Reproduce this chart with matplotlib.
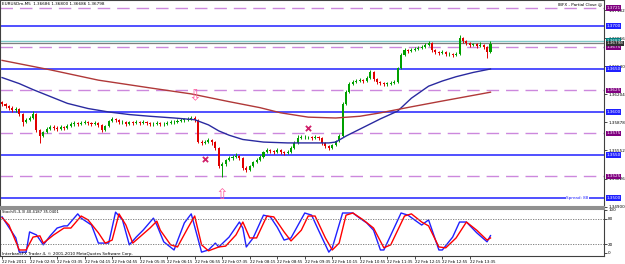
import matplotlib
matplotlib.use("Agg")
import matplotlib.pyplot as plt
import numpy as np

# EURUSD M5 candles (open of each bar = previous close)
first_open = 1.3612
closes = [1.3609, 1.3607, 1.3605, 1.3602, 1.3603, 1.3598, 1.3588, 1.3591, 1.3593, 1.3598,
          1.3579, 1.3572, 1.3577, 1.3580, 1.3583, 1.3581, 1.3580, 1.3583, 1.3581, 1.3584,
          1.3586, 1.3587, 1.3586, 1.3587, 1.3588, 1.3587, 1.3586, 1.3587, 1.3585, 1.3579,
          1.3584, 1.3590, 1.3592, 1.3591, 1.3588, 1.3588, 1.3586, 1.3588, 1.3587, 1.3588,
          1.3587, 1.3588, 1.3587, 1.3586, 1.3586, 1.3587, 1.3586, 1.3586, 1.3587, 1.3588,
          1.3588, 1.3590, 1.3591, 1.3591, 1.3592, 1.3593, 1.3591, 1.3565, 1.3564, 1.3565,
          1.3567, 1.3565, 1.3558, 1.3537, 1.3540, 1.3544, 1.3546, 1.3548, 1.3549, 1.3546,
          1.3535, 1.3533, 1.3537, 1.3542, 1.3544, 1.3548, 1.3553, 1.3556, 1.3555, 1.3553,
          1.3556, 1.3553, 1.3552, 1.3553, 1.3558, 1.3564, 1.3570, 1.3571, 1.3571, 1.3571,
          1.3570, 1.3571, 1.3570, 1.3564, 1.3560, 1.3558, 1.3562, 1.3566, 1.3572, 1.3609,
          1.3623, 1.3633, 1.3635, 1.3636, 1.3637, 1.3636, 1.3640, 1.3646, 1.3638, 1.3635,
          1.3634, 1.3633, 1.3633, 1.3634, 1.3635, 1.3651, 1.3666, 1.3672, 1.3671, 1.3672,
          1.3673, 1.3674, 1.3676, 1.3678, 1.3680, 1.3672, 1.3670, 1.3669, 1.3670, 1.3667,
          1.3667, 1.3666, 1.3667, 1.3686, 1.3683, 1.3680, 1.3678, 1.3679, 1.3677, 1.3678,
          1.3676, 1.3670, 1.3679]
highs = [1.3613, 1.3610, 1.3608, 1.3607, 1.3606, 1.3605, 1.3599, 1.3593, 1.3595, 1.3601,
         1.3599, 1.3580, 1.3578, 1.3583, 1.3585, 1.3585, 1.3584, 1.3585, 1.3584, 1.3586,
         1.3588, 1.3590, 1.3588, 1.3590, 1.3591, 1.3590, 1.3588, 1.3590, 1.3588, 1.3586,
         1.3585, 1.3591, 1.3594, 1.3593, 1.3592, 1.3591, 1.3590, 1.3590, 1.3590, 1.3591,
         1.3590, 1.3591, 1.3590, 1.3588, 1.3588, 1.3590, 1.3588, 1.3588, 1.3590, 1.3591,
         1.3591, 1.3592, 1.3593, 1.3593, 1.3594, 1.3595, 1.3595, 1.3592, 1.3567, 1.3567,
         1.3570, 1.3569, 1.3566, 1.3559, 1.3542, 1.3545, 1.3549, 1.3550, 1.3552, 1.3550,
         1.3548, 1.3537, 1.3538, 1.3543, 1.3546, 1.3550, 1.3555, 1.3558, 1.3557, 1.3556,
         1.3558, 1.3557, 1.3555, 1.3556, 1.3560, 1.3566, 1.3573, 1.3573, 1.3573, 1.3572,
         1.3572, 1.3573, 1.3572, 1.3571, 1.3565, 1.3562, 1.3563, 1.3567, 1.3574, 1.3612,
         1.3626, 1.3635, 1.3637, 1.3638, 1.3640, 1.3638, 1.3642, 1.3649, 1.3648, 1.3640,
         1.3636, 1.3635, 1.3635, 1.3636, 1.3637, 1.3652, 1.3669, 1.3674, 1.3673, 1.3674,
         1.3676, 1.3677, 1.3678, 1.3680, 1.3683, 1.3681, 1.3673, 1.3671, 1.3672, 1.3671,
         1.3670, 1.3669, 1.3670, 1.3690, 1.3687, 1.3684, 1.3681, 1.3680, 1.3680, 1.3681,
         1.3679, 1.3677, 1.3683]
lows = [1.3607, 1.3605, 1.3602, 1.3600, 1.3600, 1.3595, 1.3584, 1.3587, 1.3590, 1.3592,
        1.3577, 1.3564, 1.3571, 1.3576, 1.3579, 1.3579, 1.3578, 1.3579, 1.3579, 1.3580,
        1.3583, 1.3584, 1.3584, 1.3585, 1.3586, 1.3585, 1.3584, 1.3585, 1.3583, 1.3577,
        1.3578, 1.3583, 1.3588, 1.3588, 1.3586, 1.3586, 1.3584, 1.3585, 1.3585, 1.3586,
        1.3585, 1.3586, 1.3585, 1.3584, 1.3584, 1.3585, 1.3584, 1.3584, 1.3585, 1.3586,
        1.3586, 1.3587, 1.3588, 1.3588, 1.3590, 1.3591, 1.3588, 1.3564, 1.3562, 1.3563,
        1.3564, 1.3562, 1.3556, 1.3535, 1.3524, 1.3537, 1.3543, 1.3544, 1.3546, 1.3544,
        1.3533, 1.3530, 1.3531, 1.3536, 1.3541, 1.3543, 1.3546, 1.3552, 1.3552, 1.3551,
        1.3552, 1.3551, 1.3550, 1.3551, 1.3552, 1.3557, 1.3563, 1.3569, 1.3569, 1.3569,
        1.3567, 1.3569, 1.3567, 1.3562, 1.3558, 1.3556, 1.3557, 1.3560, 1.3565, 1.3571,
        1.3608, 1.3622, 1.3631, 1.3634, 1.3635, 1.3634, 1.3635, 1.3638, 1.3636, 1.3633,
        1.3631, 1.3630, 1.3630, 1.3631, 1.3633, 1.3634, 1.3650, 1.3665, 1.3669, 1.3670,
        1.3671, 1.3672, 1.3673, 1.3674, 1.3677, 1.3670, 1.3667, 1.3666, 1.3667, 1.3665,
        1.3665, 1.3664, 1.3665, 1.3666, 1.3680, 1.3678, 1.3676, 1.3677, 1.3674, 1.3676,
        1.3673, 1.3663, 1.3669]

# moving averages
ma_fast_bars = [0, 5, 9, 14, 19, 25, 31, 37, 43, 50, 56, 60, 63, 66, 70, 76, 83, 90, 95,
                97, 100, 105, 110, 115, 119, 124, 128, 132, 137, 142]
ma_fast = [1.3640, 1.3633, 1.3626, 1.3618, 1.3610, 1.3604, 1.3600, 1.3597, 1.3595, 1.3593,
           1.3591, 1.3585, 1.3578, 1.3573, 1.3568, 1.3565, 1.3564, 1.3564, 1.3564,
           1.3565, 1.3572, 1.3582, 1.3592, 1.3601, 1.3616, 1.3630, 1.3636, 1.3641, 1.3646, 1.3650]
ma_slow_bars = [0, 14, 28, 43, 55, 66, 75, 81, 89, 97, 104, 110, 119, 127, 142]
ma_slow = [1.3660, 1.3649, 1.3637, 1.3628, 1.3621, 1.3612, 1.3605, 1.3599, 1.3594, 1.3593,
           1.3595, 1.3599, 1.3606, 1.3612, 1.3623]

# horizontal levels
blue_levels = [1.3700, 1.3650, 1.3600, 1.3550, 1.3500]
pink_levels = [1.3721, 1.3675, 1.3625, 1.3575, 1.3525]
teal_level = 1.3683
bid_price = 1.36798
price_ticks = [1.34900, 1.35226, 1.35552, 1.35878, 1.36204, 1.36530, 1.36856, 1.37182]

# signal arrows / crosses
arrow_down = (56, 1.3610)
arrow_up = (64, 1.3513)
cross_bars = [59, 89]
cross_prices = [1.3545, 1.3581]

# stochastic (5,3,3)
stoch_k_bars = [0, 4, 5, 7, 8, 10, 12, 14, 16, 18, 19, 22, 23, 26, 28, 31, 33, 35, 37, 39,
                41, 44, 45, 47, 50, 53, 55, 58, 60, 62, 63, 66, 69, 70, 71, 73, 76, 78, 80, 82,
                84, 88, 90, 92, 95, 96, 99, 102, 104, 106, 108, 110, 111, 116, 118, 122, 124,
                127, 128, 131, 133, 135, 138, 141, 142]
stoch_k = [84, 35, 2, 2, 49, 42, 19, 40, 58, 63, 63, 91, 81, 65, 23, 23, 95, 77, 19, 37,
           53, 81, 65, 26, 7, 70, 91, 2, 7, 23, 14, 37, 72, 58, 14, 35, 88, 84, 60, 30,
           35, 93, 88, 53, 2, 12, 93, 93, 81, 70, 53, 7, 7, 93, 88, 65, 77,
           7, 7, 37, 72, 72, 47, 26, 40.4]
stoch_d_bars = [0, 2, 5, 7, 9, 11, 12, 15, 18, 20, 23, 25, 28, 30, 32, 34, 36, 38, 40, 43,
                45, 46, 49, 51, 54, 56, 58, 60, 63, 65, 68, 70, 72, 74, 77, 79, 82, 84, 87, 89,
                91, 94, 96, 98, 100, 102, 105, 108, 111, 113, 117, 119, 122, 124, 127, 129,
                132, 135, 138, 141, 142]
stoch_d = [82, 65, 7, 7, 37, 40, 23, 42, 58, 58, 86, 77, 47, 23, 30, 91, 65, 23, 37, 58,
           74, 53, 19, 14, 58, 86, 19, 5, 14, 16, 42, 72, 35, 35, 86, 84, 49, 28, 53, 86,
           86, 35, 7, 23, 88, 93, 77, 58, 12, 19, 86, 91, 72, 63, 14, 12,
           35, 72, 53, 30, 35.0]

time_labels = ["22 Feb 2011", "22 Feb 02:55", "22 Feb 03:35", "22 Feb 04:15", "22 Feb 04:55",
               "22 Feb 05:35", "22 Feb 06:15", "22 Feb 06:55", "22 Feb 07:35", "22 Feb 08:15",
               "22 Feb 08:55", "22 Feb 09:35", "22 Feb 10:15", "22 Feb 10:55", "22 Feb 11:35",
               "22 Feb 12:15", "22 Feb 12:55", "22 Feb 13:35"]

plt.rcParams['font.family'] = ['DejaVu Sans']
fs = 3.0

fig = plt.figure(figsize=(6.25, 2.64), dpi=100)
fig.patch.set_facecolor('white')
W = 604 / 625
ax = fig.add_axes([0.0, 57 / 264, W, 207 / 264])
ax2 = fig.add_axes([0.0, 8 / 264, W, 47 / 264], sharex=ax)

x = np.arange(len(closes))
opens = np.array([first_open] + closes[:-1])
c = np.array(closes)
up = c >= opens
col = np.where(up, '#00a000', '#e00000')

ax.vlines(x, lows, highs, colors=col, linewidth=0.7, zorder=3)
body_h = np.maximum(np.abs(c - opens), 0.00003)
ax.bar(x, body_h, bottom=np.minimum(c, opens), width=0.6, color=col, linewidth=0, zorder=4)

# levels
for lv in blue_levels:
    ax.axhline(lv, color='#2020ff', linewidth=1.1, zorder=2)
for lv in pink_levels:
    ax.axhline(lv, color='#cc88dd', linewidth=1.0, dashes=(9, 5), zorder=2)
ax.axhline(teal_level, color='#80c8c8', linewidth=1.0, zorder=2)
ax.axhline(bid_price, color='#808080', linewidth=0.9, zorder=2)

ax.plot(ma_fast_bars, ma_fast, color='#2a2aa0', linewidth=1.0, zorder=5)
ax.plot(ma_slow_bars, ma_slow, color='#b03838', linewidth=1.0, zorder=5)

ax.text(arrow_down[0], arrow_down[1], '\u21e9', color='#ff5fa0', fontsize=11,
        ha='center', va='bottom', zorder=6)
ax.text(arrow_up[0], arrow_up[1], '\u21e7', color='#ff5fa0', fontsize=11,
        ha='center', va='top', zorder=6)
ax.scatter(cross_bars, cross_prices, marker='x', color='#d0206a', s=14, linewidths=1.3, zorder=6)

ax.set_xlim(-0.6, 175)
ax.set_ylim(1.34895, 1.37302)
ax.yaxis.tick_right()
ax.set_yticks(price_ticks)
ax.set_yticklabels([f"{t:.5f}" for t in price_ticks])
ax.tick_params(axis='y', labelsize=fs, length=2, pad=1, width=0.5)
ax.tick_params(axis='x', bottom=False, labelbottom=False)

# right-side price labels
def tag(axis, val, txt, face):
    axis.text(1.004, val, txt, transform=axis.get_yaxis_transform(), fontsize=fs,
              color='white', va='center', ha='left', zorder=10, clip_on=False,
              bbox=dict(boxstyle='square,pad=0.2', fc=face, ec='none'))

for lv in blue_levels:
    tag(ax, lv, f"{lv:.4f}", '#2020ff')
for lv in pink_levels:
    tag(ax, lv, f"{lv:.4f}", '#800080')
tag(ax, teal_level, f"{teal_level:.4f}", '#008080')
tag(ax, bid_price, f"{bid_price:.5f}", '#303030')

ax.text(0.004, 0.99, "EURUSDm,M5  1.36686 1.36800 1.36686 1.36798", transform=ax.transAxes,
        fontsize=fs, va='top', ha='left', color='black')
ax.text(0.997, 0.99, "IBFX - Partial Close \u263a", transform=ax.transAxes,
        fontsize=fs, va='top', ha='right', color='black')
ax.text(0.937, 1.3500, "Spread: 88", fontsize=fs, color='#2020ff',
        transform=ax.get_yaxis_transform(), va='center', ha='left',
        bbox=dict(boxstyle='square,pad=0.1', fc='white', ec='none'))

# stochastic panel
ax2.plot(stoch_k_bars, stoch_k, color='#2020ff', linewidth=1.0)
ax2.plot(stoch_d_bars, stoch_d, color='#ff0000', linewidth=1.0)
ax2.axhline(80, color='#707070', linewidth=0.6, linestyle=(0, (1.5, 1.5)))
ax2.axhline(20, color='#707070', linewidth=0.6, linestyle=(0, (1.5, 1.5)))
ax2.set_ylim(-7, 102.3)
ax2.yaxis.tick_right()
ax2.set_yticks([0, 20, 80, 100])
ax2.tick_params(axis='y', labelsize=fs, length=2, pad=1, width=0.5)
ax2.set_xticks(np.arange(0, 8 * len(time_labels), 8))
ax2.set_xticklabels(time_labels, ha='left')
ax2.tick_params(axis='x', labelsize=2.8, length=2, pad=1, width=0.5)
ax2.text(0.004, 0.97, "Stoch(5,3,3) 40.4187 35.0401", transform=ax2.transAxes,
         fontsize=2.7, va='top', ha='left')
ax2.text(0.004, 0.0, "InterbankFX Trader 4, \u00a9 2001-2010 MetaQuotes Software Corp.",
         transform=ax2.transAxes, fontsize=fs, va='bottom', ha='left')

for a in (ax, ax2):
    for s in a.spines.values():
        s.set_color('#404040')
        s.set_linewidth(0.8)
ax.spines['bottom'].set_linewidth(1.5)
ax.spines['bottom'].set_color('#909090')
ax2.spines['top'].set_linewidth(1.5)
ax2.spines['top'].set_color('#909090')

fig.savefig("out.png", dpi=100, facecolor='white')
